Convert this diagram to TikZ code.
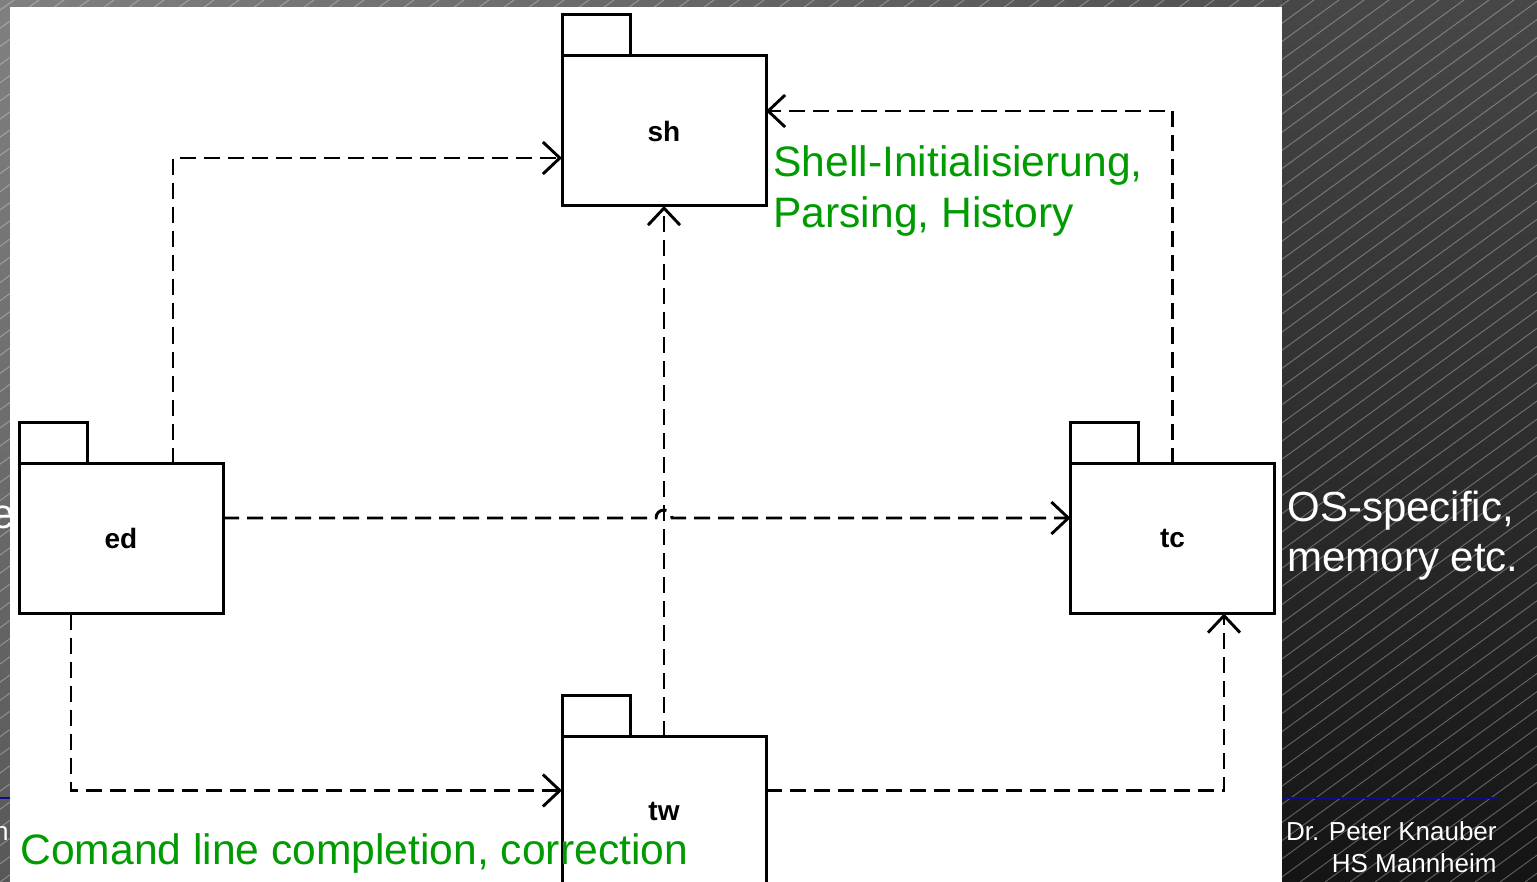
\documentclass[tikz,border=0pt]{standalone}
\usepackage{fontspec}
\setmainfont{Liberation Sans}
\usetikzlibrary{arrows.meta,calc}
\definecolor{labelgreen}{RGB}{0,155,0}
\definecolor{footblue}{RGB}{12,12,140}
\definecolor{bgtopleft}{RGB}{128,128,128}
\definecolor{bgtopright}{RGB}{71,71,71}
\definecolor{bgbotleft}{RGB}{88,88,88}
\definecolor{bgbotright}{RGB}{20,20,20}
\begin{document}
\begin{tikzpicture}[x=0.5pt,y=0.5pt,
  pkgline/.style={line width=1.5pt, line join=miter},
  pkgbody/.style={draw, pkgline, fill=white, minimum width=102pt, minimum height=75pt,
    inner sep=0pt, outer sep=0pt, font=\fontsize{14}{16}\selectfont\bfseries},
  dep/.style={line width=1.45pt, dash pattern=on 8pt off 4pt,
    -{Straight Barb[length=8.5pt,width=16pt]}},
  note/.style={text=labelgreen, font=\fontsize{21.3}{25}\selectfont, inner sep=0pt, anchor=base west},
  slidebig/.style={text=white, font=\fontsize{21}{25}\selectfont, inner sep=0pt},
  slidesmall/.style={text=white, font=\fontsize{13}{15}\selectfont, inner sep=0pt},
  hatch/.style={white, opacity=0.3, line width=0.5pt}
]
\useasboundingbox (0,0) rectangle (1537,-882);
\clip (0,0) rectangle (1537,-882);

% slide background: darkening gradient with fine diagonal hatching
\shade[left color=bgtopleft, right color=bgtopright] (0,0) rectangle (1537,-10);
\shade[top color=bgtopleft, bottom color=bgbotleft] (0,0) rectangle (10,-882);
\shade[top color=bgtopright, bottom color=bgbotright] (1282,0) rectangle (1537,-882);
\foreach \i in {-50,...,62}
  \draw[hatch] (\i*25,-882) -- ++(36:1600);

% slide text partly hidden behind the panel
\node[slidebig, anchor=base east] (cute) at (15,-528) {e};
\node[slidesmall, anchor=base east] (cutn) at (9,-840) {n};
\draw[footblue, line width=1pt] (0,-798) -- (1497,-798);

% white drawing panel
\fill[white] (10,-7) rectangle (1282,-882);

% packages
\node[pkgbody] (sh) at (664,-131) {sh};
\node[pkgbody] (ed) at (121,-538.5) {ed};
\node[pkgbody] (tc) at (1172.5,-538.5) {tc};
\node[pkgbody] (tw) at (664,-811.5) {tw};
\foreach \p in {sh,ed,tc,tw}
  \draw[pkgline] (\p.north west) rectangle ++(68,41);

% dependencies
\draw[dep] ([xshift=26pt]ed.north) |- ([yshift=-13.5pt]sh.west);
\draw[dep] (tc.north) |- ([yshift=10pt]sh.east);
\draw[dep] (tw.north) -- (sh.south);
\coordinate (edout) at ([yshift=10.25pt]ed.east);
\coordinate (hop) at (tw.north |- edout);
\draw[dep] (edout) -- ([xshift=-4pt]hop) arc[start angle=180, end angle=0, radius=4pt]
  -- (edout -| tc.west);
\draw[dep] ([xshift=-25pt]ed.south) |- ([yshift=-27pt]tw.north west);
\draw[dep] ([yshift=-27pt]tw.north east) -| ([xshift=25.75pt]tc.south);

% annotations
\node[note] (shnote1) at (773,-177) {Shell-Initialisierung,};
\node[note] (shnote2) at (773,-228) {Parsing, History};
\node[note] (twnote) at (20,-864) {Comand line completion, correction};
\node[slidebig, anchor=base west] (osnote1) at (1287,-521) {OS-specific,};
\node[slidebig, anchor=base west] (osnote2) at (1287,-571) {memory etc.};
\node[slidesmall, anchor=base east] (author) at (1497,-840) {Dr. Peter Knauber};
\node[slidesmall, anchor=base east] (school) at (1497,-872) {HS Mannheim};
\end{tikzpicture}
\end{document}
